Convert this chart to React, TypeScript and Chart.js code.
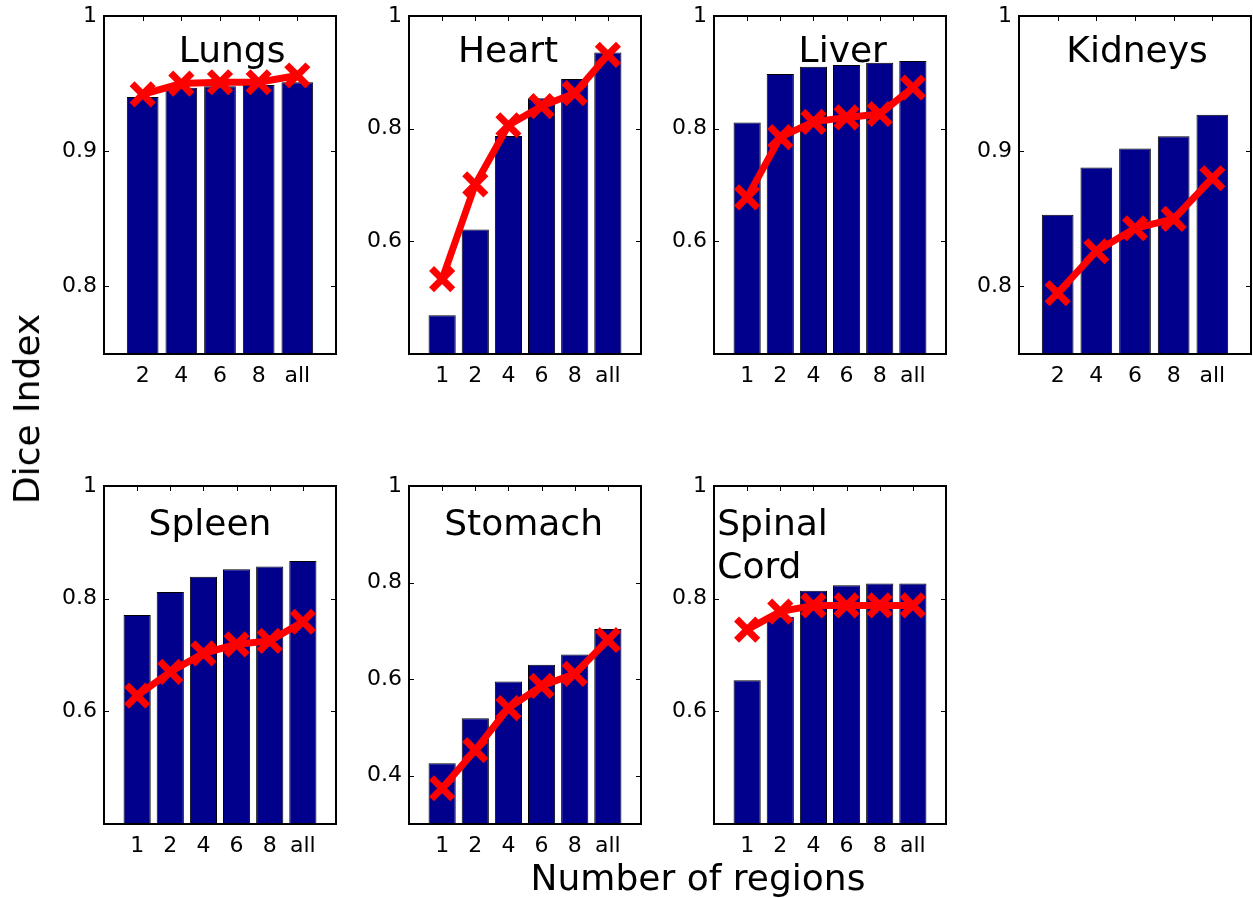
import React, { useEffect, useRef } from 'react';
import { Chart, registerables } from 'chart.js';

Chart.register(...registerables);

const FONT = "'DejaVu Sans', 'Liberation Sans', sans-serif";

// ---- categories (x tick labels) ----
const catsFive = ['2', '4', '6', '8', 'all'];
const catsSix = ['1', '2', '4', '6', '8', 'all'];

// ---- y tick labels ----
const yTicksFine = [0.8, 0.9, 1];
const yTicksCoarse = [0.6, 0.8, 1];
const yTicksStomach = [0.4, 0.6, 0.8, 1];

// ---- series values (bars = blue, line = red crosses) ----
const lungsBars = [0.940, 0.947, 0.948, 0.949, 0.951];
const lungsLine = [0.942, 0.950, 0.951, 0.951, 0.956];

const heartBars = [0.469, 0.621, 0.787, 0.854, 0.888, 0.935];
const heartLine = [0.533, 0.701, 0.806, 0.840, 0.863, 0.931];

const liverBars = [0.811, 0.897, 0.910, 0.913, 0.917, 0.920];
const liverLine = [0.678, 0.785, 0.812, 0.820, 0.826, 0.873];

const kidneysBars = [0.853, 0.888, 0.902, 0.911, 0.927];
const kidneysLine = [0.795, 0.826, 0.843, 0.850, 0.880];

const spleenBars = [0.771, 0.812, 0.839, 0.852, 0.857, 0.867];
const spleenLine = [0.628, 0.670, 0.703, 0.719, 0.725, 0.759];

const stomachBars = [0.426, 0.519, 0.595, 0.630, 0.651, 0.704];
const stomachLine = [0.374, 0.453, 0.540, 0.586, 0.611, 0.681];

const spinalBars = [0.655, 0.768, 0.814, 0.824, 0.827, 0.827];
const spinalLine = [0.745, 0.777, 0.788, 0.788, 0.788, 0.788];

// ---- layout ----
const COLS = [104, 409, 714, 1019];
const ROWS = [16, 486];
const BOX_W = 232;
const BOX_H = 338;
const PAD_L = 70; // room for y tick labels
const PAD_T = 20;
const PAD_R = 12;
const PAD_B = 45; // room for x tick labels

type PanelSpec = {
  title: string[];
  cats: string[];
  bars: number[];
  line: number[];
  yMin: number;
  yTicks: number[];
  col: number;
  row: number;
  tx: number;
  ty: number;
  align: CanvasTextAlign;
};

const panels: PanelSpec[] = [
  { title: ['Lungs'], cats: catsFive, bars: lungsBars, line: lungsLine, yMin: 0.75, yTicks: yTicksFine, col: 0, row: 0, tx: 0.552, ty: 46, align: 'center' },
  { title: ['Heart'], cats: catsSix, bars: heartBars, line: heartLine, yMin: 0.4, yTicks: yTicksCoarse, col: 1, row: 0, tx: 0.427, ty: 46, align: 'center' },
  { title: ['Liver'], cats: catsSix, bars: liverBars, line: liverLine, yMin: 0.4, yTicks: yTicksCoarse, col: 2, row: 0, tx: 0.555, ty: 46, align: 'center' },
  { title: ['Kidneys'], cats: catsFive, bars: kidneysBars, line: kidneysLine, yMin: 0.75, yTicks: yTicksFine, col: 3, row: 0, tx: 0.509, ty: 46, align: 'center' },
  { title: ['Spleen'], cats: catsSix, bars: spleenBars, line: spleenLine, yMin: 0.4, yTicks: yTicksCoarse, col: 0, row: 1, tx: 0.457, ty: 49, align: 'center' },
  { title: ['Stomach'], cats: catsSix, bars: stomachBars, line: stomachLine, yMin: 0.3, yTicks: yTicksStomach, col: 1, row: 1, tx: 0.494, ty: 49, align: 'center' },
  { title: ['Spinal', 'Cord'], cats: catsSix, bars: spinalBars, line: spinalLine, yMin: 0.4, yTicks: yTicksCoarse, col: 2, row: 1, tx: 0.014, ty: 49, align: 'left' },
];

const framePlugin = {
  id: 'frame',
  beforeDatasetsDraw(chart: any) {
    const { ctx, chartArea: a, scales } = chart;
    const tl = 5;
    ctx.save();
    ctx.strokeStyle = '#000';
    ctx.lineWidth = 1;
    ctx.beginPath();
    scales.x.ticks.forEach((t: any) => {
      const px = Math.round(scales.x.getPixelForValue(t.value)) + 0.5;
      ctx.moveTo(px, a.bottom);
      ctx.lineTo(px, a.bottom - tl);
      ctx.moveTo(px, a.top);
      ctx.lineTo(px, a.top + tl);
    });
    scales.y.ticks.forEach((t: any) => {
      const py = Math.round(scales.y.getPixelForValue(t.value)) + 0.5;
      ctx.moveTo(a.left, py);
      ctx.lineTo(a.left + tl, py);
      ctx.moveTo(a.right, py);
      ctx.lineTo(a.right - tl, py);
    });
    ctx.stroke();
    ctx.restore();
  },
  afterDatasetsDraw(chart: any, _args: any, opts: any) {
    const { ctx, chartArea: a } = chart;
    ctx.save();
    ctx.strokeStyle = '#000';
    ctx.lineWidth = 2;
    ctx.strokeRect(a.left, a.top, a.right - a.left, a.bottom - a.top);
    ctx.fillStyle = '#000';
    ctx.font = `36px ${FONT}`;
    ctx.textAlign = opts.align;
    ctx.textBaseline = 'alphabetic';
    (opts.lines as string[]).forEach((s, i) => {
      ctx.fillText(s, a.left + opts.tx * (a.right - a.left), a.top + opts.ty + i * 43);
    });
    ctx.restore();
  },
};

function Panel({ p }: { p: PanelSpec }) {
  const ref = useRef<HTMLCanvasElement | null>(null);
  useEffect(() => {
    if (!ref.current) return;
    const cats = p.cats;
    const chart = new Chart(ref.current, {
      type: 'bar',
      data: {
        datasets: [
          {
            type: 'line',
            data: p.line.map((y, i) => ({ x: i + 1, y })),
            borderColor: 'rgb(255,0,0)',
            borderWidth: 7,
            pointStyle: 'crossRot',
            pointRadius: 15,
            pointBorderWidth: 7,
            pointBorderColor: 'rgb(255,0,0)',
            pointBackgroundColor: 'rgb(255,0,0)',
            tension: 0,
            order: 0,
            clip: false,
          } as any,
          {
            type: 'bar',
            data: p.bars.map((y, i) => ({ x: i + 1, y })),
            backgroundColor: 'rgb(0,0,140)',
            borderColor: '#000',
            borderWidth: 1,
            barPercentage: 0.82,
            categoryPercentage: 1,
            order: 1,
          } as any,
        ],
      },
      options: {
        responsive: false,
        maintainAspectRatio: false,
        animation: false,
        devicePixelRatio: 1,
        layout: { autoPadding: false, padding: { top: PAD_T, right: PAD_R, left: 0, bottom: 0 } },
        plugins: {
          legend: { display: false },
          tooltip: { enabled: false },
          frame: { lines: p.title, tx: p.tx, ty: p.ty, align: p.align },
        } as any,
        scales: {
          x: {
            type: 'linear',
            min: 0,
            max: cats.length + 1,
            offset: false,
            grid: { display: false, drawTicks: false },
            border: { display: false },
            afterBuildTicks: (ax: any) => {
              ax.ticks = cats.map((_, i) => ({ value: i + 1 }));
            },
            afterFit: (ax: any) => {
              ax.height = PAD_B;
              ax.paddingLeft = 0;
              ax.paddingRight = 0;
            },
            ticks: {
              autoSkip: false,
              maxRotation: 0,
              padding: 9,
              color: '#000',
              font: { family: FONT, size: 22 },
              callback: (v: any) => cats[Math.round(v) - 1] ?? '',
            },
          },
          y: {
            type: 'linear',
            min: p.yMin,
            max: 1,
            grid: { display: false, drawTicks: false },
            border: { display: false },
            afterBuildTicks: (ax: any) => {
              ax.ticks = p.yTicks.map((v) => ({ value: v }));
            },
            afterFit: (ax: any) => {
              ax.width = PAD_L;
              ax.paddingTop = 0;
              ax.paddingBottom = 0;
            },
            ticks: {
              padding: 7,
              color: '#000',
              font: { family: FONT, size: 22 },
              callback: (v: any) => String(Math.round(v * 100) / 100),
            },
          },
        } as any,
      },
      plugins: [framePlugin as any],
    });
    return () => chart.destroy();
  }, [p]);
  const w = PAD_L + BOX_W + PAD_R;
  const h = PAD_T + BOX_H + PAD_B;
  return (
    <canvas
      ref={ref}
      width={w}
      height={h}
      style={{
        position: 'absolute',
        left: COLS[p.col] - PAD_L,
        top: ROWS[p.row] - PAD_T,
        width: w,
        height: h,
      }}
    />
  );
}

export default function App() {
  return (
    <div
      style={{
        position: 'absolute',
        left: 0,
        top: 0,
        width: 1253,
        height: 898,
        overflow: 'hidden',
        background: '#fff',
        fontFamily: FONT,
      }}
    >
      {panels.map((p) => (
        <Panel key={p.title.join(' ')} p={p} />
      ))}
      <div
        style={{
          position: 'absolute',
          left: 27,
          top: 409,
          transform: 'translate(-50%, -50%) rotate(-90deg)',
          fontSize: 36,
          lineHeight: 1,
          whiteSpace: 'nowrap',
          color: '#000',
        }}
      >
        Dice Index
      </div>
      <div
        style={{
          position: 'absolute',
          left: 698,
          top: 878,
          transform: 'translate(-50%, -50%)',
          fontSize: 36,
          lineHeight: 1,
          whiteSpace: 'nowrap',
          color: '#000',
        }}
      >
        Number of regions
      </div>
    </div>
  );
}
